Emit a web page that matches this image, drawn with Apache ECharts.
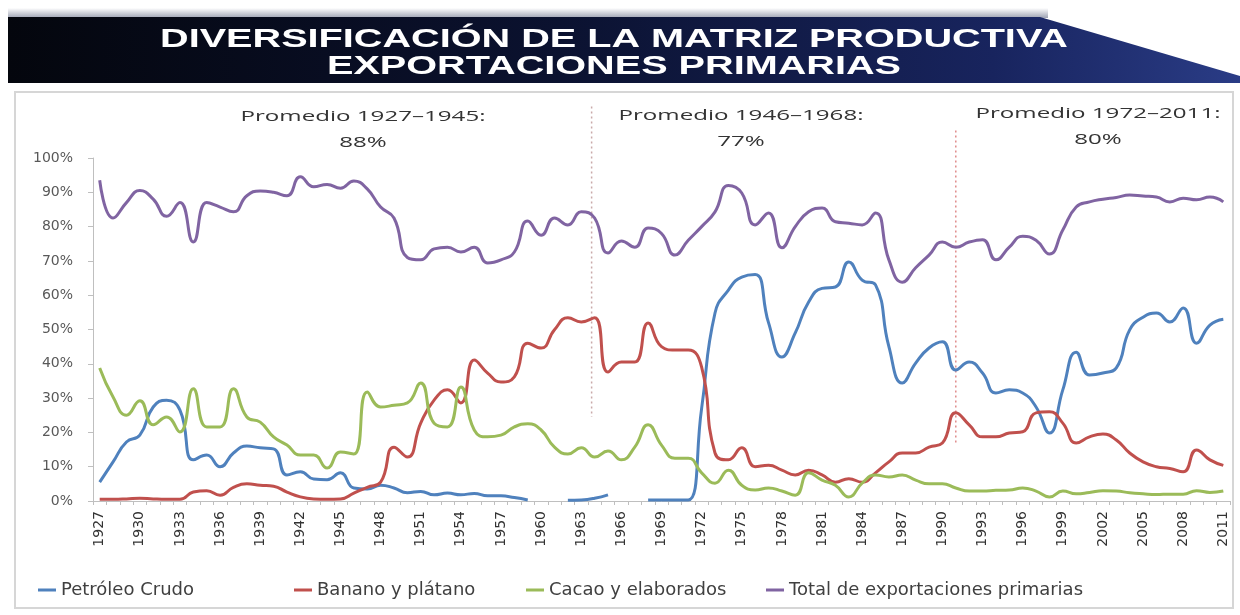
<!DOCTYPE html>
<html>
<head>
<meta charset="utf-8">
<title>Exportaciones primarias</title>
<script src="https://cdn.jsdelivr.net/npm/echarts/dist/echarts.min.js"></script>
<style>
  html, body { margin: 0; padding: 0; background: #fff; }
  #main { width: 1240px; height: 615px; }
</style>
</head>
<body>
<div id="main"></div>
<script>
// categorias (anos)
const years = ['1927','1928','1929','1930','1931','1932','1933','1934','1935','1936','1937','1938','1939','1940',
  '1941','1942','1943','1944','1945','1946','1947','1948','1949','1950','1951','1952','1953','1954','1955','1956',
  '1957','1958','1959','1960','1961','1962','1963','1964','1965','1966','1967','1968','1969','1970','1971','1972',
  '1973','1974','1975','1976','1977','1978','1979','1980','1981','1982','1983','1984','1985','1986','1987','1988',
  '1989','1990','1991','1992','1993','1994','1995','1996','1997','1998','1999','2000','2001','2002','2003','2004',
  '2005','2006','2007','2008','2009','2010','2011'];

// % de las exportaciones totales
const petroleo = [5.5,11.4,17.2,19.2,27.4,29.4,26.5,12,13.4,10,14,16,15.5,15.2,7.6,8.5,6.4,6.2,8.2,3.8,3.5,
  4.6,3.8,2.4,2.8,1.8,2.3,1.8,2.2,1.5,1.5,1,0.3,null,null,0.2,0.3,0.8,1.8,null,null,0.3,0.3,0.3,0.3,27,
  54.8,61.5,65.3,66,52,42,49,58,62,62.4,69.7,64.4,63,45,34.4,40.2,44.6,46.4,38.2,40.5,37.3,31.5,32.4,31.5,
  27.4,19.8,32.4,43.4,36.7,37.3,38.8,49.9,53.6,54.8,52.2,56.3,46,51.3,53];
const banano = [0.5,0.5,0.6,0.8,0.6,0.5,0.5,2.6,3,1.7,4,5,4.6,4.3,2.6,1.2,0.6,0.5,0.6,2.3,4,
  5.5,15.7,12.8,22.7,29.4,32.4,28.6,41.1,37.3,34.7,36.2,46,44.6,49.9,53.4,52.2,53.4,37.6,40.5,40.5,51.9,45,44,44,39,
  14,12,15.5,10,10.4,9,7.6,9,7.6,5.5,6.5,5.5,8.2,11.4,14,14,15.7,16.9,25.7,22.2,18.7,18.7,19.8,20.2,
  25.7,26,22.7,16.9,18.7,19.5,17.8,14,11.4,10,9.5,8.5,14.9,12,10.4];
const cacao = [38.8,30.3,25,29.2,22.2,24.5,20.1,32.7,21.6,21.6,32.7,24.5,23,18.7,16.3,13.4,13.4,9.6,14.3,13.7,31.8,
  27.4,27.9,28.6,34.4,22.7,21.6,33.2,20.7,18.7,19.2,21.6,22.5,20.7,15.7,13.7,15.5,12.8,14.6,12,15.7,22.2,16.3,12.5,12.5,8.2,
  5.2,9,4.6,3.2,3.8,2.9,1.7,8.2,6.1,4.6,1.2,5.2,7.6,7,7.6,6.1,5,5,3.8,2.9,2.9,3.1,3.2,3.8,
  2.9,1.2,2.9,2.1,2.5,3,2.9,2.4,2.1,1.9,2,2,3,2.5,2.9];
const totalPrimarias = [93.5,82.5,87,90.5,88,83,87,75.5,87,85.7,84.3,89,90.4,90,89,94.5,91.6,92.3,91.2,93.3,91,
  85.7,82.5,71,70.3,73.5,74,72.6,74,69.4,70.3,72.6,81.6,77.5,82.5,80.5,84.3,82.5,72.3,75.8,74,79.6,78,71.7,76,80,
  84.3,92,89.8,80.5,84,73.8,80,84.3,85.4,81.4,81,80.5,84,70.3,63.8,68,71.7,75.5,74,75.5,76.2,70.3,74,77.2,
  76,72,79,85.7,87.2,88,88.5,89.2,88.9,88.6,87.2,88.3,87.8,88.6,87.2];

const seriesNames = ['Petróleo Crudo', 'Banano y plátano', 'Cacao y elaborados', 'Total de exportaciones primarias'];
const seriesData = [petroleo, banano, cacao, totalPrimarias];
const seriesColors = ['#4f81bd', '#c0504d', '#9bbb59', '#8064a2'];

const titleLines = ['DIVERSIFICACIÓN DE LA MATRIZ PRODUCTIVA', 'EXPORTACIONES PRIMARIAS'];
const periodLabels = ['Promedio 1927–1945:', 'Promedio 1946–1968:', 'Promedio 1972–2011:'];
const periodValues = ['88%', '77%', '80%'];
const dividerYears = ['1964', '1991'];

const chart = echarts.init(document.getElementById('main'), null, { renderer: 'canvas' });

// one legend per item so each one can sit where the original puts it
const legendLeft = [38, 294, 526, 766];
const legends = seriesNames.map((name, i) => ({
  data: [name],
  left: legendLeft[i],
  top: 581,
  padding: 0,
  icon: 'rect',
  itemWidth: 18,
  itemHeight: 3,
  itemGap: 0,
  textStyle: { color: '#404040', fontSize: 18, fontFamily: 'DejaVu Sans' }
}));

const series = seriesNames.map((name, i) => ({
  name: name,
  type: 'line',
  data: seriesData[i],
  smooth: true,
  showSymbol: false,
  connectNulls: false,
  lineStyle: { width: 3, color: seriesColors[i] },
  itemStyle: { color: seriesColors[i] },
  z: 3 + i
}));

chart.setOption({
  backgroundColor: '#ffffff',
  animation: false,
  legend: legends,
  grid: { left: 93, right: 10, top: 158, bottom: 114 },
  xAxis: {
    type: 'category',
    data: years,
    boundaryGap: true,
    axisLine: { lineStyle: { color: '#bfbfbf', width: 1 } },
    axisTick: { show: true, interval: 0, length: 4, lineStyle: { color: '#bfbfbf' } },
    axisLabel: {
      interval: 2,
      rotate: 90,
      margin: 10,
      color: '#333333',
      fontSize: 14,
      fontFamily: 'DejaVu Sans'
    },
    splitLine: { show: false }
  },
  yAxis: {
    type: 'value',
    min: 0,
    max: 100,
    interval: 10,
    axisLine: { show: true, lineStyle: { color: '#bfbfbf', width: 1 } },
    axisTick: { show: true, length: 5, lineStyle: { color: '#bfbfbf' } },
    axisLabel: {
      formatter: '{value}%',
      margin: 20,
      color: '#595959',
      fontSize: 14,
      fontFamily: 'DejaVu Sans'
    },
    splitLine: { show: false }
  },
  series
});

// text width helper, used to stretch the banner and notes like the original
const measureCtx = document.createElement('canvas').getContext('2d');
function textWidth(text, font) {
  measureCtx.font = font;
  return measureCtx.measureText(text).width;
}

const titleFont = 'bold 25px "Liberation Sans", Arial, sans-serif';
const titleScale = 908 / textWidth(titleLines[0], titleFont);
const noteFont = '15px "Open Sans", sans-serif';
const noteScale = 245 / textWidth(periodLabels[0], noteFont);

const graphics = [];

// frame round the chart
graphics.push({
  type: 'rect', z: -10, silent: true,
  shape: { x: 15, y: 92, width: 1218, height: 516 },
  style: { fill: 'none', stroke: '#d6d6d6', lineWidth: 2 }
});

// banner
graphics.push({
  type: 'rect', z: -10, silent: true,
  shape: { x: 8, y: 8, width: 1040, height: 10 },
  style: {
    fill: { type: 'linear', x: 0, y: 0, x2: 0, y2: 1,
      colorStops: [{ offset: 0, color: '#ffffff' }, { offset: 1, color: '#9ea3b3' }] }
  }
});
graphics.push({
  type: 'polygon', z: -9, silent: true,
  shape: { points: [[8, 17], [1040, 17], [1240, 76], [1240, 83], [8, 83]] },
  style: {
    fill: { type: 'linear', x: 0, y: 0, x2: 1, y2: 0,
      colorStops: [
        { offset: 0, color: '#04060d' },
        { offset: 0.45, color: '#0b1230' },
        { offset: 0.8, color: '#18245e' },
        { offset: 1, color: '#2a3c86' }
      ] }
  }
});
titleLines.forEach((line, i) => {
  graphics.push({
    type: 'text', z: 10, silent: true,
    x: 614, y: i === 0 ? 40 : 67,
    scaleX: titleScale,
    style: {
      text: line, x: 0, y: 0,
      font: titleFont,
      textAlign: 'center', textVerticalAlign: 'middle',
      align: 'center', verticalAlign: 'middle',
      fill: '#ffffff',
      shadowColor: '#000000', shadowBlur: 3, shadowOffsetX: 1, shadowOffsetY: 1
    }
  });
});

// period notes
const noteX = [363, 741, 1098];
const noteY = [117, 116, 114];
periodLabels.forEach((label, i) => {
  [label, periodValues[i]].forEach((txt, j) => {
    graphics.push({
      type: 'text', z: 10, silent: true,
      x: noteX[i], y: noteY[i] + j * 26,
      scaleX: noteScale,
      style: {
        text: txt, x: 0, y: 0,
        font: noteFont,
        textAlign: 'center', textVerticalAlign: 'middle',
        align: 'center', verticalAlign: 'middle',
        fill: '#333333'
      }
    });
  });
});

// dotted dividers between the periods
const dividerTop = [115, 108];
const dividerBottom = [24.5, 17];
dividerYears.forEach((yr, i) => {
  const x = chart.convertToPixel({ xAxisIndex: 0 }, years.indexOf(yr)) - (i === 0 ? 3 : 0);
  const y1 = chart.convertToPixel({ yAxisIndex: 0 }, dividerTop[i]);
  const y2 = chart.convertToPixel({ yAxisIndex: 0 }, dividerBottom[i]);
  graphics.push({
    type: 'line', z: 1, silent: true,
    shape: { x1: x, y1: y1, x2: x, y2: y2 },
    style: { stroke: i === 0 ? '#c9a9a9' : '#e08c8c', lineWidth: 1.5, lineDash: [2, 3] }
  });
});

chart.setOption({ graphic: { elements: graphics } });
</script>
</body>
</html>
